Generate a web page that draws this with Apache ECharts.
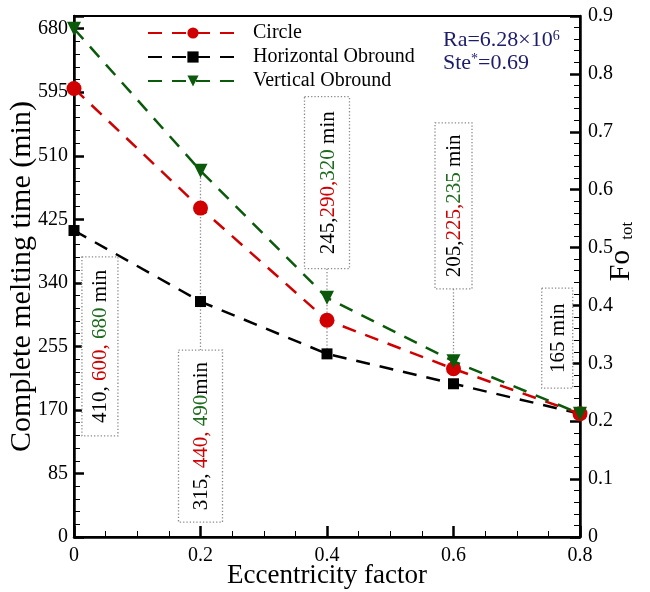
<!DOCTYPE html>
<html>
<head>
<meta charset="utf-8">
<script src="https://cdn.jsdelivr.net/npm/echarts@6/dist/echarts.min.js"></script>
<style>html,body{margin:0;padding:0;background:#fff}#c{width:650px;height:592px}</style>
</head>
<body>
<div id="c"></div>
<script>
// ---- data ----
const eccentricity = [0, 0.2, 0.4, 0.6, 0.8];
const circleTime = [600, 440, 290, 225, 165];
const horizontalTime = [410, 315, 245, 205, 165];
const verticalTime = [680, 490, 320, 235, 165];
const seriesNames = ['Circle', 'Horizontal Obround', 'Vertical Obround'];
const boxLabels = [
  ['410, ', '600, ', '680', ' min'],
  ['315, ', '440, ', '490', 'min'],
  ['245,', '290,', '320', ' min'],
  ['205,', '225,', '235', ' min'],
  ['', '', '', '165 min']
];

const FONT = '"Liberation Serif", "Times New Roman", serif';
const RED = '#d00000';
const GREEN = '#0b5a0b';
const chart = echarts.init(document.getElementById('c'));

function pts(arr) { return eccentricity.map((x, i) => [x, arr[i]]); }
const dash = [14, 10];

const option = {
  animation: false,
  backgroundColor: '#fff',
  grid: { left: 74, right: 70, top: 16, bottom: 55, show: true, borderColor: '#000', borderWidth: 2,
    containLabel: false, outerBoundsMode: 'none' },
  legend: {
    left: 142, top: 17, orient: 'vertical', itemWidth: 90, itemHeight: 14, itemGap: 2,
    textStyle: { fontFamily: FONT, fontSize: 20, color: '#000', lineHeight: 22, padding: [0, 0, 0, 10] },
    data: [seriesNames[0], seriesNames[1], seriesNames[2]]
  },
  xAxis: {
    type: 'value', min: 0, max: 0.8, interval: 0.2,
    name: 'Eccentricity factor', nameLocation: 'middle', nameGap: 25, nameMoveOverlap: false,
    nameTextStyle: { fontFamily: FONT, fontSize: 27, color: '#000' },
    axisLine: { lineStyle: { color: '#000', width: 2.5 } },
    axisTick: { inside: true, length: 11, lineStyle: { color: '#000', width: 2.5 } },
    minorTick: { show: true, splitNumber: 4, length: 6, lineStyle: { color: '#000', width: 1 } },
    splitLine: { show: false },
    axisLabel: { fontFamily: FONT, fontSize: 20, color: '#000', margin: 9, formatter: v => v === 0 ? '0' : (+v.toFixed(1)).toString() }
  },
  yAxis: [{
    type: 'value', min: 0, max: 697, interval: 85, position: 'left',
    name: 'Complete melting time (min)', nameLocation: 'middle', nameGap: 37, nameMoveOverlap: false,
    nameTextStyle: { fontFamily: FONT, fontSize: 30, color: '#000' },
    axisLine: { show: true, lineStyle: { color: '#000', width: 2.5 } },
    axisTick: { inside: true, length: 10, lineStyle: { color: '#000', width: 2.5 } },
    minorTick: { show: true, splitNumber: 5, length: 6, lineStyle: { color: '#000', width: 1 } },
    splitLine: { show: false },
    axisLabel: { fontFamily: FONT, fontSize: 20, color: '#000', margin: 6, showMaxLabel: false }
  }, {
    type: 'value', min: 0, max: 0.9, interval: 0.1, position: 'right',
    name: 'Fo{sub|tot}', nameLocation: 'middle', nameGap: 26, nameMoveOverlap: false,
    nameTextStyle: { fontFamily: FONT, fontSize: 30, color: '#000', padding: [0, 0, 0, 50],
      rich: { sub: { fontFamily: FONT, fontSize: 17, color: '#000', verticalAlign: 'bottom', padding: [12, 0, 0, 10] } } },
    axisLine: { show: true, lineStyle: { color: '#000', width: 2.5 } },
    axisTick: { inside: true, length: 10, lineStyle: { color: '#000', width: 2.5 } },
    minorTick: { show: true, splitNumber: 5, length: 6, lineStyle: { color: '#000', width: 1 } },
    splitLine: { show: false },
    axisLabel: { fontFamily: FONT, fontSize: 20, color: '#000', margin: 8, formatter: v => v === 0 ? '0' : (+v.toFixed(1)).toString() }
  }],
  series: [{
    name: seriesNames[1], type: 'line', data: pts(horizontalTime), symbol: 'rect', symbolSize: 11,
    lineStyle: { color: '#000', width: 2.5, type: dash }, itemStyle: { color: '#000' }, z: 3
  }, {
    name: seriesNames[0], type: 'line', data: pts(circleTime), symbol: 'circle', symbolSize: 15,
    lineStyle: { color: RED, width: 2.5, type: dash }, itemStyle: { color: RED }, z: 4
  }, {
    name: seriesNames[2], type: 'line', data: pts(verticalTime), symbol: 'triangle', symbolRotate: 180, symbolSize: 14,
    lineStyle: { color: GREEN, width: 2.5, type: dash }, itemStyle: { color: GREEN }, z: 5
  }]
};
chart.setOption(option);

// ---- annotations placed in data coordinates ----
const P = (x, y) => chart.convertToPixel({ xAxisIndex: 0, yAxisIndex: 0 }, [x, y]);
const boxes = [
  { at: [0.041, 255], w: 36, h: 179 },
  { at: [0.2, 135], w: 44, h: 172 },
  { at: [0.4, 474], w: 45, h: 172 },
  { at: [0.6, 443], w: 37, h: 166 },
  { at: [0.764, 266], w: 31, h: 100 }
];
const leaders = [
  { x: 0.2, from: verticalTime[1], to: 250 },
  { x: 0.4, from: 359, to: horizontalTime[2] },
  { x: 0.6, from: 332, to: verticalTime[3] }
];
const dotted = { stroke: '#8a8a8a', lineWidth: 1.3, lineDash: [1.3, 2] };
const graphics = [];
leaders.forEach(l => {
  const a = P(l.x, l.from), b = P(l.x, l.to);
  graphics.push({ type: 'line', z: 1, shape: { x1: a[0], y1: a[1], x2: b[0], y2: b[1] }, style: Object.assign({}, dotted) });
});
boxes.forEach((bx, i) => {
  const c = P(bx.at[0], bx.at[1]);
  graphics.push({ type: 'rect', z: 10, shape: { x: c[0] - bx.w / 2, y: c[1] - bx.h / 2, width: bx.w, height: bx.h },
    style: Object.assign({ fill: '#fff' }, dotted) });
  const parts = boxLabels[i];
  let txt = '';
  if (parts[0]) txt += '{k|' + parts[0] + '}';
  if (parts[1]) txt += '{r|' + parts[1] + '}';
  if (parts[2]) txt += '{g|' + parts[2] + '}';
  txt += '{k|' + parts[3] + '}';
  graphics.push({ type: 'text', z: 11, x: c[0] + 1, y: c[1], rotation: Math.PI / 2,
    style: { text: txt, align: 'center', verticalAlign: 'middle', font: '21px ' + FONT,
      rich: { k: { fill: '#000', fontSize: 21, fontFamily: FONT }, r: { fill: RED, fontSize: 21, fontFamily: FONT }, g: { fill: '#1d6b1d', fontSize: 21, fontFamily: FONT } } } });
});
graphics.push({ type: 'text', z: 12, left: 443, top: 29,
  style: { text: '{n|Ra=6.28×10}{s|6}\n{n|Ste}{s|*}{n|=0.69}', fill: '#1c1c6b', font: '22px ' + FONT,
    rich: { n: { fill: '#1c1c6b', fontSize: 22, fontFamily: FONT, lineHeight: 23 }, s: { fill: '#1c1c6b', fontSize: 14, fontFamily: FONT, verticalAlign: 'top', lineHeight: 23 } } } });
chart.setOption({ graphic: graphics });
</script>
</body>
</html>
